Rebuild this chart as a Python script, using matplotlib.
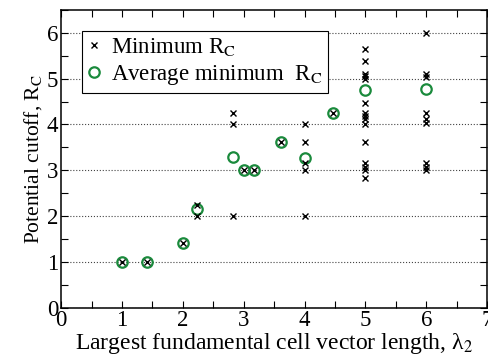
import matplotlib
matplotlib.use('Agg')
import matplotlib.pyplot as plt
from matplotlib.ticker import MultipleLocator

plt.rcParams['font.family'] = 'serif'
plt.rcParams['font.serif'] = ['Liberation Serif', 'DejaVu Serif']
plt.rcParams['mathtext.fontset'] = 'stix'

# minimum cutoff for each cell, grouped by largest vector length
min_x = [1.0, 1.414, 2.0,
         2.236, 2.236,
         2.828, 2.828, 2.828,
         3.0, 3.162, 3.606,
         4.0, 4.0, 4.0, 4.0, 4.0,
         4.472,
         5.0, 5.0, 5.0, 5.0, 5.0, 5.0, 5.0, 5.0, 5.0, 5.0, 5.0, 5.0, 5.0, 5.0, 5.0,
         6.0, 6.0, 6.0, 6.0, 6.0, 6.0, 6.0, 6.0, 6.0]
min_rc = [1.0, 1.0, 1.414,
          2.236, 2.0,
          4.243, 4.0, 2.0,
          3.0, 3.0, 3.606,
          4.0, 3.606, 3.162, 3.0, 2.0,
          4.243,
          5.657, 5.385, 5.099, 5.05, 5.0, 4.472, 4.243, 4.18, 4.123, 4.0, 3.606, 3.162, 3.08, 3.0, 2.828,
          6.0, 5.099, 5.03, 4.243, 4.123, 4.03, 3.162, 3.07, 3.0]

# averages
avg_x = [1.0, 1.414, 2.0, 2.236, 2.828, 3.0, 3.162, 3.606, 4.0, 4.472, 5.0, 6.0]
avg_rc = [1.0, 1.0, 1.414, 2.16, 3.29, 3.0, 3.0, 3.606, 3.27, 4.243, 4.76, 4.78]

fig = plt.figure(figsize=(4.89, 3.58), dpi=100)
ax = fig.add_axes([0.125, 0.141, 0.871, 0.831])

ax.plot(min_x, min_rc, 'x', color='black', ms=5, mew=1.0, label='Minimum R$_\\mathrm{C}$', zorder=3)
ax.plot(avg_x, avg_rc, 'o', mfc='none', mec='#1a8a3c', ms=7.5, mew=1.6,
        label='Average minimum  R$_\\mathrm{C}$', zorder=2)

ax.set_xlim(0, 7)
ax.set_ylim(0, 6.5)
ax.xaxis.set_major_locator(MultipleLocator(1))
ax.xaxis.set_minor_locator(MultipleLocator(0.5))
ax.yaxis.set_major_locator(MultipleLocator(1))
ax.yaxis.set_minor_locator(MultipleLocator(0.5))
ax.tick_params(which='both', direction='in', top=True, right=True, length=5, width=0.8,
               labelsize=16.5, pad=2)
ax.yaxis.grid(True, linestyle=':', color='#444444', linewidth=0.8)
ax.set_axisbelow(True)
for s in ax.spines.values():
    s.set_linewidth(1.1)

ax.set_xlabel('Largest fundamental cell vector length, λ$_2$', fontsize=17, labelpad=0)
ax.set_ylabel('Potential cutoff, R$_\\mathrm{C}$', fontsize=15.5, labelpad=2)

leg = ax.legend(loc='upper left', fontsize=16.5, fancybox=False, framealpha=1,
                edgecolor='black', borderpad=0.25, handletextpad=0.42,
                labelspacing=0.2, handlelength=0.6, borderaxespad=0.9)
leg.get_frame().set_linewidth(0.8)

fig.savefig('out.png', dpi=100)
